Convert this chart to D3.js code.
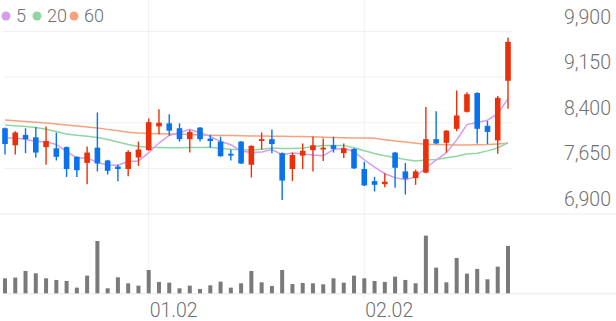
<!DOCTYPE html>
<html>
<head>
<meta charset="utf-8">
<script src="https://cdn.jsdelivr.net/npm/d3@7"></script>
<style>
  html, body { margin: 0; padding: 0; background: #fff; }
  svg { display: block; font-family: Roboto, sans-serif; }
</style>
</head>
<body>
<script>
// trading days (MM.DD)
var dates = ["12.12","12.13","12.14","12.15","12.16","12.19","12.20","12.21","12.22","12.23",
  "12.26","12.27","12.28","12.29","01.02","01.03","01.04","01.05","01.06","01.09",
  "01.10","01.11","01.12","01.13","01.16","01.17","01.18","01.19","01.20","01.25",
  "01.26","01.27","01.30","01.31","02.01","02.02","02.03","02.06","02.07","02.08",
  "02.09","02.10","02.13","02.14","02.15","02.16","02.17","02.20","02.21","02.22"];

// OHLC
var opens = [8310,8030,8200,8160,8000,7980,8000,7840,7740,7990,7780,7680,7640,7830,7950,8340,8390,8310,8130,8320,
  8140,8090,7890,8090,7710,8100,8130,7900,7640,7860,7950,7960,8030,7900,7970,7640,7440,7390,7910,7600,
  7490,7580,8130,8070,8300,8580,8890,8350,8110,9090];
var highs = [8320,8260,8310,8330,8340,8240,8010,7850,8010,8570,7790,7710,7950,8090,8470,8620,8540,8390,8280,8330,
  8200,8170,7960,8100,8030,8240,8290,7910,7910,8060,8170,8140,8170,8060,7980,7760,7510,7570,7920,7740,
  7630,8660,8590,8280,8930,8900,8900,8430,8840,9800];
var lows = [7880,7880,7900,7830,7710,7780,7510,7510,7390,7600,7550,7440,7520,7690,7940,8210,8190,8090,7910,8090,
  7990,7840,7780,7720,7500,7960,7900,7130,7440,7640,7600,7770,7910,7820,7640,7360,7270,7340,7330,7220,
  7380,7570,8050,7910,8260,8570,8060,8050,7890,8630];
var closes = [8050,8240,8130,7910,8100,7840,7640,7620,7910,7730,7610,7640,7920,7960,8410,8400,8270,8130,8250,8130,
  8100,7850,7860,7730,8020,8130,8050,7450,7870,7940,8030,7990,7970,7980,7650,7370,7380,7430,7660,7480,
  7600,8130,8060,8270,8520,8870,8300,8250,8810,9730];

var volumes = [45000,47000,67000,60000,45000,40000,37000,17000,53000,157000,15000,48000,30000,23000,70000,34000,32000,15000,23000,13000,
  24000,35000,17000,30000,67000,33000,22000,70000,28000,31000,30000,27000,45000,32000,53000,45000,37000,34000,50000,40000,
  30000,173000,77000,33000,106000,59000,73000,42000,80000,142000];

// moving averages
var ma5 = [8150,8150,8130,8090,8086,8044,7924,7822,7822,7748,7702,7702,7762,7772,7908,8066,8192,8234,8292,8236,
  8176,8092,8038,7934,7912,7918,7958,7876,7904,7888,7868,7856,7960,7982,7924,7792,7670,7562,7498,7464,
  7510,7660,7786,7908,8116,8370,8404,8442,8550,8792];
var ma20 = [8363,8350,8337,8322,8293,8256,8215,8194,8178,8159,8125,8084,8043,8010,7997,7992,7990,7990,7993,7995,
  7997,7978,7964,7955,7951,7966,7986,7978,7976,7986,8007,8025,8027,8028,7990,7939,7894,7859,7830,7797,
  7772,7786,7796,7823,7848,7885,7898,7938,7985,8074];
var ma60 = [8445,8432,8421,8408,8396,8381,8363,8347,8330,8314,8291,8268,8245,8233,8225,8220,8215,8210,8205,8199,
  8196,8192,8189,8186,8182,8181,8179,8177,8176,8173,8168,8163,8158,8153,8151,8148,8145,8120,8100,8084,
  8064,8046,8043,8040,8036,8036,8040,8043,8051,8062];

var priceTicks = [6900, 7650, 8400, 9150, 9900];
var dateTicks = ["01.02", "02.02"];
var legendItems = [{name: "5", color: "#d69cf0"}, {name: "20", color: "#8fd6a2"}, {name: "60", color: "#f7a27c"}];

var width = 616, height = 321;
var upColor = "#e8300a", downColor = "#0a72ec";
var textColor = "#707070";

var svg = d3.select("body").append("svg")
    .attr("width", width)
    .attr("height", height);

var x = d3.scalePoint().domain(dates).range([5, 508]);
var y = d3.scaleLinear().domain([6900, 9900]).range([214, 31.5]);
var yVol = d3.scaleLinear().domain([0, 180000]).range([293.3, 233.3]);

// grid
var grid = svg.append("g").attr("class", "grid");
grid.selectAll("line.h")
    .data(priceTicks.slice(1))
    .enter().append("line")
    .attr("x1", 3).attr("x2", 512)
    .attr("y1", function(d) { return y(d); })
    .attr("y2", function(d) { return y(d); })
    .attr("stroke", "#f0f0f0").attr("stroke-width", 1);

grid.selectAll("line.v")
    .data(dateTicks)
    .enter().append("line")
    .attr("x1", function(d) { return x(d); })
    .attr("x2", function(d) { return x(d); })
    .attr("y1", 0).attr("y2", 300)
    .attr("stroke", "#f0f0f0").attr("stroke-width", 1);

// pane separator + volume base
svg.append("line")
    .attr("x1", 0).attr("x2", width)
    .attr("y1", y(6900)).attr("y2", y(6900))
    .attr("stroke", "#ececec");
svg.append("line")
    .attr("x1", 3).attr("x2", width)
    .attr("y1", yVol(0) + 0.5).attr("y2", yVol(0) + 0.5)
    .attr("stroke", "#e6e6e6");

// moving average lines
var maLines = [ma60, ma20, ma5];
var maColors = ["#f7a27c", "#8fd6a2", "#d69cf0"];
var line = d3.line()
    .x(function(d, i) { return x(dates[i]); })
    .y(function(d) { return y(d); });

svg.append("g").selectAll("path")
    .data(maLines)
    .enter().append("path")
    .attr("d", line)
    .attr("fill", "none")
    .attr("stroke", function(d, i) { return maColors[i]; })
    .attr("stroke-width", 1.5);

// candles
var candle = svg.append("g").selectAll("g")
    .data(dates)
    .enter().append("g");

candle.append("line")
    .attr("x1", function(d) { return x(d); })
    .attr("x2", function(d) { return x(d); })
    .attr("y1", function(d, i) { return y(highs[i]); })
    .attr("y2", function(d, i) { return y(lows[i]); })
    .attr("stroke", function(d, i) { return closes[i] >= opens[i] ? upColor : downColor; })
    .attr("stroke-width", 1.4);

candle.append("rect")
    .attr("x", function(d) { return x(d) - 2.8; })
    .attr("width", 5.6)
    .attr("y", function(d, i) { return y(Math.max(opens[i], closes[i])); })
    .attr("height", function(d, i) { return Math.max(1.5, Math.abs(y(opens[i]) - y(closes[i]))); })
    .attr("fill", function(d, i) { return closes[i] >= opens[i] ? upColor : downColor; });

// volume
svg.append("g").selectAll("rect")
    .data(volumes)
    .enter().append("rect")
    .attr("x", function(d, i) { return x(dates[i]) - 2; })
    .attr("width", 4)
    .attr("y", function(d) { return yVol(d); })
    .attr("height", function(d) { return yVol(0) - yVol(d); })
    .attr("fill", "#7a7a7a");

// price labels
svg.append("g").selectAll("text")
    .data(priceTicks)
    .enter().append("text")
    .attr("x", 611)
    .attr("y", function(d) { return y(d) - 8; })
    .attr("text-anchor", "end")
    .attr("font-size", 19.5)
    .attr("font-weight", 300)
    .attr("fill", textColor)
    .text(function(d) { return d3.format(",")(d); });

// date labels
svg.append("g").selectAll("text")
    .data(dateTicks)
    .enter().append("text")
    .attr("x", function(d) { return x(d) + 1; })
    .attr("y", 316.5)
    .attr("font-size", 19.5)
    .attr("font-weight", 300)
    .attr("fill", textColor)
    .text(function(d) { return d; });

// legend
var legendX = [6, 37, 74];
var legend = svg.append("g").selectAll("g")
    .data(legendItems)
    .enter().append("g")
    .attr("transform", function(d, i) { return "translate(" + legendX[i] + ",0)"; });
legend.append("circle")
    .attr("cx", 0).attr("cy", 16).attr("r", 4.5)
    .attr("fill", function(d) { return d.color; });
legend.append("text")
    .attr("x", 10).attr("y", 22.3)
    .attr("font-size", 18)
    .attr("font-weight", 300)
    .attr("fill", textColor)
    .text(function(d) { return d.name; });
</script>
</body>
</html>
